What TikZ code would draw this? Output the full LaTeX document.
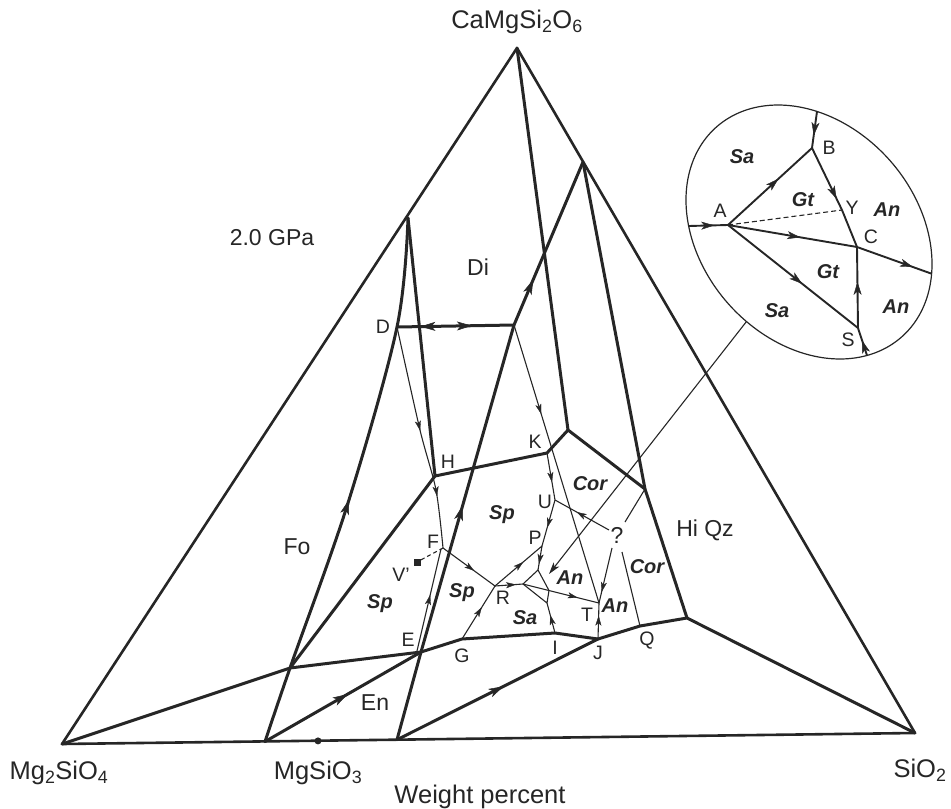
\documentclass[tikz,border=0pt]{standalone}
\usepackage{fontspec}
\setmainfont{Liberation Sans}
\usetikzlibrary{arrows.meta,decorations.markings,calc}
\tikzset{
  edgeline/.style={line width=2.6pt, line join=round, line cap=round},
  bnd/.style={line width=3pt, line join=round, line cap=round},
  fine/.style={line width=1.1pt, line join=round},
  insl/.style={line width=1.9pt, line join=round},
  am/.style={postaction={decorate,decoration={markings,mark=at position #1 with {\arrow{Stealth[length=15pt,width=9pt,inset=4pt,line width=0.5pt]}}}}},
  amr/.style={postaction={decorate,decoration={markings,mark=at position #1 with {\arrowreversed{Stealth[length=15pt,width=9pt,inset=4pt,line width=0.5pt]}}}}},
  af/.style={postaction={decorate,decoration={markings,mark=at position #1 with {\arrow{Stealth[length=10pt,width=6pt,inset=2.5pt,line width=0.3pt]}}}}},
  ai/.style={postaction={decorate,decoration={markings,mark=at position #1 with {\arrow{Stealth[length=13pt,width=8pt,inset=3.5pt,line width=0.4pt]}}}}},
  lab/.style={font=\fontsize{19.5}{22}\selectfont, inner sep=0pt},
  reg/.style={font=\fontsize{23}{26}\selectfont, inner sep=0pt},
  itl/.style={font=\fontsize{20}{23}\selectfont\bfseries\itshape, inner sep=0pt},
  big/.style={font=\fontsize{25.5}{29}\selectfont, inner sep=0pt},
}
\begin{document}
\begin{tikzpicture}[x=1pt,y=-1pt,color=black!85]
\useasboundingbox (0,0) rectangle (951,809);
% ---------- points ----------
\coordinate (Mg) at (62,744);
\coordinate (Si) at (915,733);
\coordinate (Ca) at (517,48);
\coordinate (b1) at (265,741.6);
\coordinate (b2) at (318,740.9);
\coordinate (b3) at (397,739.7);
\coordinate (L1) at (408,218);
\coordinate (R1) at (583,162);
\coordinate (D) at (397,327);
\coordinate (X) at (514,325);
\coordinate (H) at (435,476);
\coordinate (K) at (547,453);
\coordinate (M) at (568,430);
\coordinate (N) at (645,489);
\coordinate (Z) at (687,618);
\coordinate (Q) at (640,626);
\coordinate (J) at (598,639);
\coordinate (I) at (555,633);
\coordinate (G) at (462,639);
\coordinate (E) at (421,652);
\coordinate (W) at (290,668);
\coordinate (F) at (443,548);
\coordinate (V) at (417,562);
\coordinate (R) at (495,586);
\coordinate (P) at (542,546);
\coordinate (U) at (555,500);
\coordinate (A) at (523,584);
\coordinate (B) at (538,570);
\coordinate (C) at (549,590.5);
\coordinate (S) at (547,603);
\coordinate (T) at (599,603);
\coordinate (q1) at (609,530);
\coordinate (q2) at (612,548);
\coordinate (q3) at (625,522);
\coordinate (q4) at (622,552);
\coordinate (lead) at (549,574);
% ---------- triangle ----------
\draw[edgeline] (Mg) -- (Ca) -- (Si) -- cycle;
% ---------- thick boundaries ----------
\draw[bnd] (Mg) -- (W) -- (E) -- (G) -- (I) -- (J) -- (Q) -- (Z) -- (Si);
\draw[bnd, am=0.47] plot[smooth, tension=0.55] coordinates {(b1) (W) (348,503) (D) (L1)};
\draw[bnd] (L1) -- (H);
\draw[bnd] (W) -- (H) -- (K) -- (M);
\draw[bnd] (Ca) -- (M) -- (N);
\draw[bnd] (R1) -- (N) -- (Z);
\draw[bnd, am=0.40, am=0.79] (b3) -- (E) -- (X) -- (R1);
\draw[bnd, am=0.53] (b1) -- (E);
\draw[bnd, am=0.53] (b3) -- (J);
\draw[bnd, amr=0.2, am=0.64] (D) -- (X);
\fill (b2) circle (3.5pt);
% ---------- thin lines ----------
\draw[fine, af=0.47, af=0.77] plot[smooth, tension=0.5] coordinates {(D) (420,430) (436,490) (F)};
\draw[fine, af=0.55] (417,651) -- (441,549);
\draw[fine, dash pattern=on 4pt off 3pt] (F) -- (V);
\fill ($(V)+(-3.5,-3.5)$) rectangle ($(V)+(3.5,3.5)$);
\draw[fine, af=0.6] (F) -- (R);
\draw[fine, af=0.6] (G) -- (R);
\draw[fine, af=0.6] (R) -- (P);
\draw[fine, af=0.75] (R) -- (A);
\draw[fine, af=0.62] (K) -- (U);
\draw[fine, af=0.6] (U) -- (P);
\draw[fine, af=0.75] (P) -- (B);
\draw[fine] (A) -- (B) -- (C);
\draw[fine, af=0.72] (A) -- (C) -- (T);
\draw[fine] (A) -- (S) -- (C);
\draw[fine, af=0.6] (I) -- (S);
\draw[fine, af=0.32] (X) -- (T);
\draw[fine, af=0.65] (J) -- (T);
\draw[fine, af=0.6] (q1) -- (U);
\draw[fine, af=0.8] (q2) -- (T);
\draw[fine] (q3) -- (N);
\draw[fine] (q4) -- (Q);
% ---------- inset ----------
\coordinate (iA) at (728,225);
\coordinate (iB) at (812,148);
\coordinate (iY) at (842,210);
\coordinate (iC) at (857,247);
\coordinate (iS) at (858,328);
\coordinate (eL) at (688.5,226);
\coordinate (eT) at (817,111.5);
\coordinate (eR) at (931.6,273.7);
\coordinate (eB) at (867,355.5);
\coordinate (eQ) at (746.5,321.5);
\draw[line width=1.2pt] plot[domain=0:360, samples=150, smooth]
  ({809 + 140*cos(\x)*cos(48.6) - 108*sin(\x)*sin(48.6)},
   {232 + 140*cos(\x)*sin(48.6) + 108*sin(\x)*cos(48.6)}) -- cycle;
\draw[fine, -{Stealth[length=12pt,width=7pt,inset=3pt]}] (eQ) -- (lead);
\draw[insl, ai=0.65] (eL) -- (iA);
\draw[insl, ai=0.65] (eT) -- (iB);
\draw[insl, ai=0.6] (iA) -- (iB);
\draw[insl, ai=0.82] (iB) -- (iY);
\draw[insl] (iY) -- (iC);
\draw[fine, dash pattern=on 5pt off 3pt] (iA) -- (iY);
\draw[insl, ai=0.56] (iA) -- (iC);
\draw[insl, ai=0.75] (iC) -- (eR);
\draw[insl, ai=0.57] (iA) -- (iS);
\draw[insl, ai=0.57] (iS) -- (iC);
\draw[insl, ai=0.55] (eB) -- (iS);
% inset labels
\node[lab] (lA) at (720,211) {A};
\node[lab] (lB) at (829,148) {B};
\node[lab] (lY) at (852,208) {Y};
\node[lab] (lC) at (871,237) {C};
\node[lab] (lS) at (848,340) {S};
\node[itl] (iSa1) at (742,157) {Sa};
\node[itl] (iGt1) at (803,200) {Gt};
\node[itl] (iAn1) at (887,210) {An};
\node[itl] (iGt2) at (828,272) {Gt};
\node[itl] (iSa2) at (777,311) {Sa};
\node[itl] (iAn2) at (896,307) {An};
% ---------- main labels ----------
\node[big] (tCa) at (517,22) {CaMgSi\textsubscript{2}O\textsubscript{6}};
\node[big] (tMg) at (59,773) {Mg\textsubscript{2}SiO\textsubscript{4}};
\node[big] (tEn) at (318,773) {MgSiO\textsubscript{3}};
\node[big] (tSi) at (920,770) {SiO\textsubscript{2}};
\node[big] (tWp) at (480,797) {Weight percent};
\node[reg] (tP) at (272,238) {2.0 GPa};
\node[reg] (tDi) at (478,267) {Di};
\node[reg] (tFo) at (297,547) {Fo};
\node[reg] (tQz) at (705,530) {Hi Qz};
\node[reg] (tEnl) at (375,703) {En};
\node[lab] (nD) at (383,327) {D};
\node[lab] (nH) at (448,462) {H};
\node[lab] (nK) at (535,442) {K};
\node[lab] (nU) at (545,502) {U};
\node[lab] (nP) at (535,538) {P};
\node[lab] (nF) at (433,542) {F};
\node[lab] (nV) at (401,575) {V'};
\node[lab] (nR) at (503,598) {R};
\node[lab] (nT) at (587,615) {T};
\node[lab] (nE) at (408,640) {E};
\node[lab] (nG) at (462,656) {G};
\node[lab] (nI) at (555,648) {I};
\node[lab] (nJ) at (598,653) {J};
\node[lab] (nQ) at (647,641) {Q};
\node[reg] (nq) at (617,535) {?};
\node[itl] (rSp1) at (380,604) {Sp};
\node[itl] (rSp2) at (462,593) {Sp};
\node[itl] (rSp3) at (502,515) {Sp};
\node[itl] (rCo1) at (590,484) {Cor};
\node[itl] (rCo2) at (647,567) {Cor};
\node[itl] (rAn1) at (570,578) {An};
\node[itl] (rAn2) at (615,606) {An};
\node[itl] (rSa) at (525,618) {Sa};
\end{tikzpicture}
\end{document}
